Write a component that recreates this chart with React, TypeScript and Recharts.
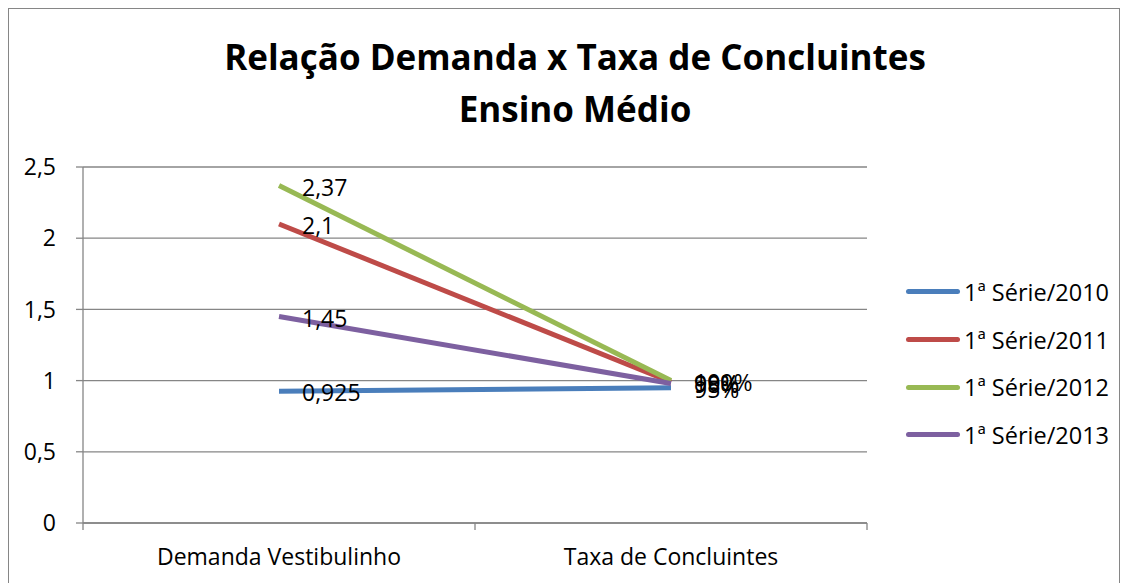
import React from "react";
import { LineChart, Line, XAxis, YAxis, CartesianGrid, Legend, LabelList } from "recharts";

const categories = ["Demanda Vestibulinho", "Taxa de Concluintes"];
const seriesNames = ["1ª Série/2010", "1ª Série/2011", "1ª Série/2012", "1ª Série/2013"];
const demanda = [0.925, 2.1, 2.37, 1.45];
const taxa = [0.95, 0.99, 1.0, 0.98];
const colors = ["#4A7EBB", "#BE4B48", "#98B954", "#7D60A0"];
const yTicks = [0, 0.5, 1, 1.5, 2, 2.5];
const categoryPositions = [0.5, 1.5];
const xTicks = [0, 0.5, 1, 1.5, 2];

const data = categories.map((c, i) => {
  const row: any = { x: categoryPositions[i], name: c };
  seriesNames.forEach((s, j) => {
    row["s" + j] = i === 0 ? demanda[j] : taxa[j];
  });
  return row;
});

const FONT = "'Open Sans', 'Liberation Sans', sans-serif";
const TICK_SIZE = 7;
const X_TICK_MARGIN = 19;

const fmtNum = (v: number) => String(v).replace(".", ",");

const makeLabel = (props: any) => {
  const { x, y, value, index } = props;
  const text = index === 0 ? fmtNum(value) : Math.round(value * 100) + "%";
  return (
    <text x={x + 23} y={y + 1} dominantBaseline="central" fontSize={23} fontFamily={FONT} fill="#000">
      {text}
    </text>
  );
};

const LegendContent = () => (
  <div style={{ fontFamily: FONT }}>
    {seriesNames.map((s, i) => (
      <div key={s} style={{ display: "flex", alignItems: "center", height: 47.7 }}>
        <div style={{ width: 54, height: 5, borderRadius: 3, background: colors[i], marginRight: 4 }} />
        <span style={{ fontSize: 23.5, color: "#000", whiteSpace: "nowrap" }}>{s}</span>
      </div>
    ))}
  </div>
);

const XTick = (props: any) => {
  const { x, y, payload } = props;
  const idx = categoryPositions.indexOf(payload.value);
  if (idx < 0) {
    const top = y - X_TICK_MARGIN - TICK_SIZE;
    return <line x1={x} x2={x} y1={top} y2={top + TICK_SIZE} stroke="#868686" strokeWidth={1.3} />;
  }
  return (
    <text x={x} y={y} dy="0.71em" textAnchor="middle" fontSize={23} fontFamily={FONT} fill="#000">
      {categories[idx]}
    </text>
  );
};

export default function App() {
  return (
    <div style={{ position: "relative", width: 1110, height: 580, border: "1px solid #868686", background: "#fff" }}>
      <div
        style={{
          position: "absolute",
          left: 0,
          width: 1132,
          top: 22,
          textAlign: "center",
          fontFamily: FONT,
          fontWeight: 700,
          fontSize: 35,
          lineHeight: "52px",
          color: "#000",
          zIndex: 2,
        }}
      >
        Relação Demanda x Taxa de Concluintes
        <br />
        Ensino Médio
      </div>
      <LineChart width={1110} height={574} data={data} margin={{ top: 158, right: 22, bottom: 20, left: 0 }}>
        <CartesianGrid vertical={false} stroke="#868686" strokeWidth={1.3} />
        <XAxis
          dataKey="x"
          type="number"
          domain={[0, 2]}
          ticks={xTicks}
          interval={0}
          height={40}
          tickLine={false}
          tickSize={TICK_SIZE}
          tickMargin={X_TICK_MARGIN}
          axisLine={{ stroke: "#868686", strokeWidth: 1.3 }}
          tick={<XTick />}
        />
        <YAxis
          domain={[0, 2.5]}
          ticks={yTicks}
          width={74}
          tickSize={7}
          tickMargin={20}
          tickFormatter={fmtNum}
          axisLine={{ stroke: "#868686", strokeWidth: 1.3 }}
          tickLine={{ stroke: "#868686", strokeWidth: 1.3 }}
          tick={{ fontSize: 23, fontFamily: FONT, fill: "#000" }}
        />
        <Legend
          layout="vertical"
          align="right"
          verticalAlign="middle"
          content={<LegendContent />}
          wrapperStyle={{ position: "absolute", left: 897, top: 259, width: 230, height: 191 }}
        />
        {seriesNames.map((s, j) => (
          <Line
            key={s}
            dataKey={"s" + j}
            name={s}
            stroke={colors[j]}
            strokeWidth={5}
            dot={false}
            isAnimationActive={false}
          >
            <LabelList dataKey={"s" + j} content={makeLabel} />
          </Line>
        ))}
      </LineChart>
    </div>
  );
}
